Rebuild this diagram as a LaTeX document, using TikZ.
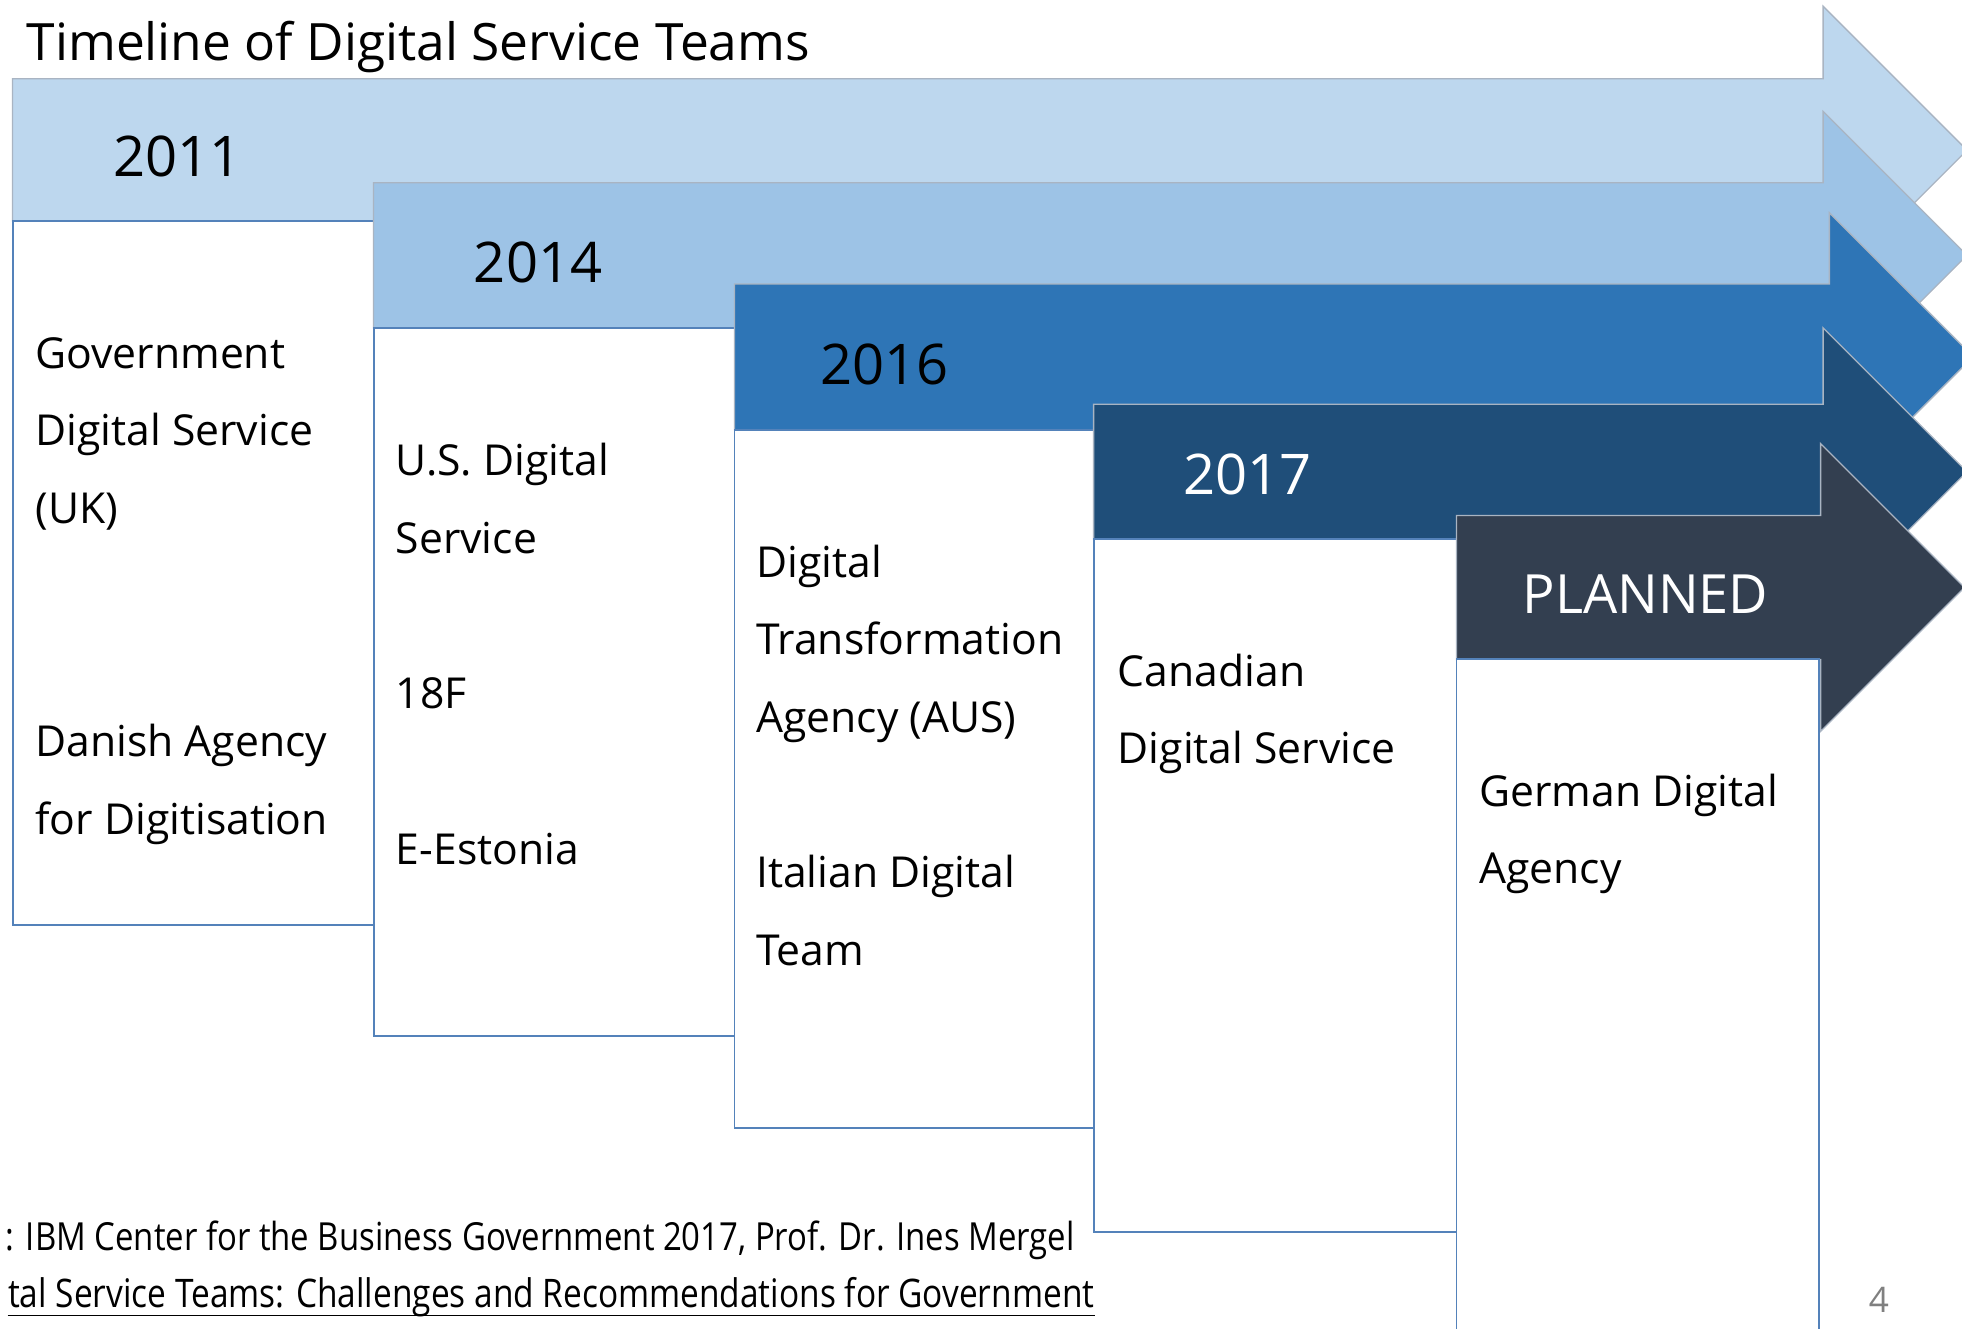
\documentclass[tikz,border=0pt]{standalone}
\usepackage{fontspec}
\setmainfont{Open Sans}
\newfontfamily\narrowfont[FakeStretch=0.85]{Open Sans}
\usepackage{tikz}

\definecolor{arrowA}{HTML}{BDD7EE}
\definecolor{arrowB}{HTML}{9DC3E6}
\definecolor{arrowC}{HTML}{2E75B6}
\definecolor{arrowD}{HTML}{1F4E79}
\definecolor{arrowE}{HTML}{333F50}
\definecolor{boxline}{HTML}{5482BA}
\definecolor{arrowline}{HTML}{A9B4C2}

\newcommand{\firstline}{\rule{0pt}{16pt}}

\begin{document}
\begin{tikzpicture}[x=0.2mm,y=-0.2mm,
    band/.style={draw=arrowline,line width=0.6pt},
    yearbox/.style={fill=white,draw=boxline,line width=0.9pt},
    year/.style={font=\fontsize{25.5}{30}\selectfont},
    entry/.style={anchor=north west,inner sep=0pt,align=left,font=\fontsize{19.4}{35.3}\selectfont},
    source/.style={anchor=base east,inner sep=0pt,font=\narrowfont\fontsize{17.6}{21}\selectfont}]
    \clip (0,0) rectangle (1568,1062);

    \node[anchor=base west,inner sep=0pt,font=\fontsize{23.4}{28}\selectfont] (title) at (21,48) {Timeline of Digital Service Teams};

    % arrows and boxes, oldest first
    \filldraw[band,fill=arrowA] (10,63) -- (1457,63) -- (1457,5) -- (1572,120) -- (1457,235) -- (1457,176.5) -- (10,176.5) -- cycle;
    \filldraw[yearbox] (10,176.5) rectangle (298.5,739);
    \filldraw[band,fill=arrowB] (298.5,146) -- (1457,146) -- (1457,89) -- (1572,204) -- (1457,319) -- (1457,262) -- (298.5,262) -- cycle;
    \filldraw[yearbox] (298.5,262) rectangle (587,828);
    \filldraw[band,fill=arrowC] (587,227) -- (1462,227) -- (1462,170) -- (1577,285) -- (1462,400) -- (1462,343.5) -- (587,343.5) -- cycle;
    \filldraw[yearbox] (587,343.5) rectangle (874,901.5);
    \filldraw[band,fill=arrowD] (874,323) -- (1457,323) -- (1457,262) -- (1572,377) -- (1457,492) -- (1457,431) -- (874,431) -- cycle;
    \filldraw[yearbox] (874,431) rectangle (1164,984.5);
    \filldraw[band,fill=arrowE] (1164,412) -- (1455,412) -- (1455,354.5) -- (1570,469.5) -- (1455,584.5) -- (1455,527) -- (1164,527) -- cycle;
    \filldraw[yearbox] (1164,527) rectangle (1454,1080);

    \node[year] (y2011) at (142,125) {2011};
    \node[year] (y2014) at (430,210) {2014};
    \node[year] (y2016) at (707,291) {2016};
    \node[year,white] (y2017) at (997,379) {2017};
    \node[white,font=\fontsize{24.6}{28}\selectfont] (planned) at (1315,475) {PLANNED};

    \node[entry] (uk) at (28,265.9) {\firstline Government\\Digital Service\\(UK)\\[70.6pt]Danish Agency\\for Digitisation};
    \node[entry] (us) at (316,351.9) {\firstline U.S. Digital\\Service\\[35.3pt]18F\\[35.3pt]E-Estonia};
    \node[entry] (aus) at (604,432.9) {\firstline Digital\\Transformation\\Agency (AUS)\\[35.3pt]Italian Digital\\Team};
    \node[entry] (ca) at (893,519.9) {\firstline Canadian\\Digital Service};
    \node[entry] (de) at (1182,615.9) {\firstline German Digital\\Agency};

    \node[source] (ref) at (859,999) {: IBM Center for the Business Government 2017, Prof. Dr. Ines Mergel};
    \node[source,font=\narrowfont\fontsize{17.9}{21}\selectfont] (report) at (875,1045) {tal Service Teams: Challenges and Recommendations for Government};
    \draw[line width=0.7pt] ([yshift=-3.6pt]report.base west) -- ([yshift=-3.6pt]report.base east);
    \node[gray,font=\fontsize{16}{19}\selectfont] (page) at (1501.5,1039) {4};
\end{tikzpicture}
\end{document}
